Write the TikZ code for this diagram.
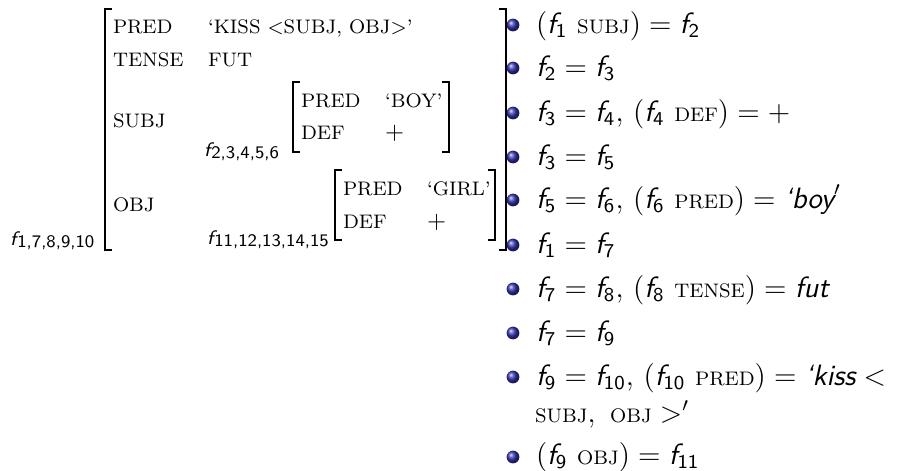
\documentclass[tikz,border=0pt]{standalone}
\usepackage{amsmath}
\definecolor{itemblue}{rgb}{0.2,0.2,0.7}
\newcommand\fv[1]{\textsf{\itshape f}_{\textsf{#1}}}
\newcommand\ftr[1]{\text{\fontsize{8}{9}\selectfont\rmfamily\upshape #1}}
\newcommand\mtx{\fontsize{8}{10}\selectfont\rmfamily\upshape}
\newcommand\mf[1]{{\fontsize{8}{10}\selectfont\sffamily\itshape f}\kern0.4pt\raisebox{-1.2pt}{\fontsize{7.2}{9}\selectfont\sffamily #1}}
\newcommand\mplus{{\fontsize{10}{12}\selectfont$+$}}
\tikzset{
  lbl/.style={anchor=base west, inner sep=0pt, outer sep=0pt},
  brk/.style={line width=0.75pt, line cap=butt, line join=miter},
  ballitem/.style={ball color=itemblue}
}
\begin{document}
\begin{tikzpicture}[x=0.4082pt, y=-0.4082pt, font=\fontsize{12}{14.5}\selectfont]
\useasboundingbox (0,0) rectangle (902,470);
% outer f-structure
\node[lbl] (fo) at (10,245) {\mf{1,7,8,9,10}};
\draw[brk] (112,9) -- (105,9) -- (105,250) -- (112,250);
\draw[brk] (499,9) -- (506,9) -- (506,250) -- (499,250);
\node[lbl] (a1) at (113,33) {\mtx PRED};
\node[lbl] (v1) at (208,33) {\mtx `KISS $<$SUBJ, OBJ$>$'};
\node[lbl] (a2) at (113,66) {\mtx TENSE};
\node[lbl] (v2) at (208,66) {\mtx FUT};
\node[lbl] (a3) at (113,127) {\mtx SUBJ};
\node[lbl] (a4) at (113,211) {\mtx OBJ};
% subj f-structure
\node[lbl] (fs) at (204,156) {\mf{2,3,4,5,6}};
\draw[brk] (300,82) -- (293,82) -- (293,152) -- (300,152);
\draw[brk] (442,82) -- (449,82) -- (449,152) -- (442,152);
\node[lbl] (s1) at (301,107) {\mtx PRED};
\node[lbl] (s1v) at (385,107) {\mtx `BOY'};
\node[lbl] (s2) at (301,139) {\mtx DEF};
\node[lbl] (s2v) at (385,139) {\mplus};
% obj f-structure
\node[lbl] (fb) at (207,244) {\mf{11,12,13,14,15}};
\draw[brk] (342,170) -- (335,170) -- (335,240) -- (342,240);
\draw[brk] (488,170) -- (495,170) -- (495,240) -- (488,240);
\node[lbl] (o1) at (343,195) {\mtx PRED};
\node[lbl] (o1v) at (427,195) {\mtx `GIRL'};
\node[lbl] (o2) at (343,228) {\mtx DEF};
\node[lbl] (o2v) at (427,228) {\mplus};
% equations
\foreach \yy in {25,68,113,157,200,245,289,333,377,457}
  \shade[ballitem] (513,\yy) circle[radius=2.6pt];
\node[lbl] (e1) at (536,33) {$(\fv{1}\ \ftr{SUBJ}) = \fv{2}$};
\node[lbl] (e2) at (536,76) {$\fv{2} = \fv{3}$};
\node[lbl] (e3) at (536,121) {$\fv{3} = \fv{4}$, $(\fv{4}\ \ftr{DEF}) = +$};
\node[lbl] (e4) at (536,165) {$\fv{3} = \fv{5}$};
\node[lbl] (e5) at (536,208) {$\fv{5} = \fv{6}$, $(\fv{6}\ \ftr{PRED}) = \textsf{\itshape `boy}'$};
\node[lbl] (e6) at (536,253) {$\fv{1} = \fv{7}$};
\node[lbl] (e7) at (536,297) {$\fv{7} = \fv{8}$, $(\fv{8}\ \ftr{TENSE}) = \textsf{\itshape fut}$};
\node[lbl] (e8) at (536,341) {$\fv{7} = \fv{9}$};
\node[lbl] (e9) at (536,385) {$\fv{9} = \fv{10}$, $(\fv{10}\ \ftr{PRED}) = \textsf{\itshape `kiss} <$};
\node[lbl] (e9b) at (535,422) {$\ftr{SUBJ},\ \ftr{OBJ} >'$};
\node[lbl] (e10) at (536,464) {$(\fv{9}\ \ftr{OBJ}) = \fv{11}$};
\end{tikzpicture}
\end{document}
